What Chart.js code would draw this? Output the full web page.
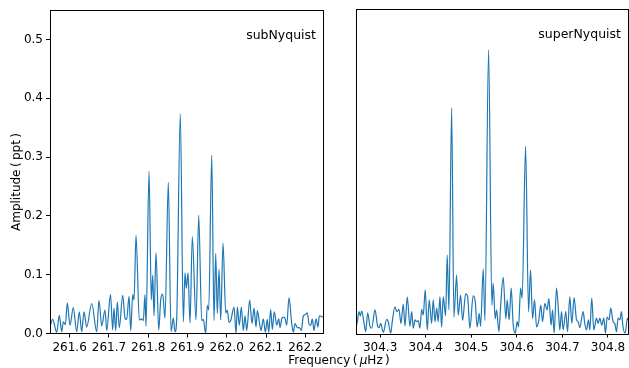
<!DOCTYPE html>
<html>
<head>
<meta charset="utf-8">
<script src="https://cdn.jsdelivr.net/npm/chart.js@4.4.1/dist/chart.umd.min.js"></script>
<style>
  body { margin: 0; background: #fff; }
  #wrap { position: relative; width: 629px; height: 368px; background: #fff; overflow: hidden; }
  canvas { position: absolute; top: 0; }
  #subCanvas { left: 0; }
  #superCanvas { left: 340px; }
  .title { position: absolute; font-family: "DejaVu Sans", sans-serif; font-size: 12px; color: #000; white-space: nowrap; }
  #xTitle { left: 339px; top: 353px; transform: translateX(-50%); }
  #yTitle { left: 16px; top: 182px; transform: translate(-50%, -50%) rotate(-90deg); }
</style>
</head>
<body>
<div id="wrap">
  <canvas id="subCanvas" width="340" height="368"></canvas>
  <canvas id="superCanvas" width="289" height="368"></canvas>
  <div class="title" id="xTitle">Frequency&#8201;(&#8201;<i>&mu;</i>Hz&#8201;)</div>
  <div class="title" id="yTitle">Amplitude&#8201;(&#8201;ppt&#8201;)</div>
</div>
<script>
// sub-Nyquist panel: peaks and troughs
const leftFreq = [
  261.5500, 261.5569, 261.5671, 261.5737, 261.5798, 261.5839, 261.5890, 261.5940, 261.6009, 261.6093,
  261.6180, 261.6246, 261.6307, 261.6366, 261.6434, 261.6562, 261.6689, 261.6748, 261.6816, 261.6900,
  261.6944, 261.7040, 261.7096, 261.7129, 261.7173, 261.7213, 261.7264, 261.7351, 261.7410, 261.7453,
  261.7511, 261.7555, 261.7606, 261.7639, 261.7690, 261.7774, 261.7835, 261.7875, 261.7919, 261.7944,
  261.8021, 261.8079, 261.8115, 261.8148, 261.8199, 261.8268, 261.8318, 261.8369, 261.8428, 261.8512,
  261.8581, 261.8639, 261.8683, 261.8726, 261.8817, 261.8894, 261.8937, 261.8970, 261.9014, 261.9064,
  261.9123, 261.9217, 261.9286, 261.9362, 261.9403, 261.9464, 261.9505, 261.9541, 261.9617, 261.9675,
  261.9719, 261.9759, 261.9803, 261.9846, 261.9905, 261.9973, 262.0014, 262.0057, 262.0101, 262.0185,
  262.0236, 262.0269, 262.0320, 262.0371, 262.0421, 262.0465, 262.0508, 262.0584, 262.0643, 262.0694,
  262.0745, 262.0778, 262.0829, 262.0872, 262.0931, 262.0982, 262.1032, 262.1068, 262.1119, 262.1160,
  262.1211, 262.1272, 262.1323, 262.1356, 262.1399, 262.1440, 262.1483, 262.1526, 262.1585, 262.1654,
  262.1694, 262.1738, 262.1796, 262.1847, 262.1898, 262.1949, 262.1992, 262.2051, 262.2102, 262.2137,
  262.2178, 262.2221, 262.2272, 262.2323, 262.2356, 262.2418, 262.2458
];
const leftAmp = [
  0.012, 0.024, 0.002, 0.031, 0.003, 0.020, 0.015, 0.052, 0.014, 0.044,
  0.003, 0.037, 0.003, 0.037, 0.011, 0.051, 0.003, 0.056, 0.013, 0.040,
  0.005, 0.066, 0.006, 0.043, 0.005, 0.054, 0.010, 0.065, 0.026, 0.024,
  0.063, 0.005, 0.066, 0.057, 0.167, 0.023, 0.025, 0.022, 0.066, 0.012,
  0.276, 0.057, 0.099, 0.030, 0.137, 0.006, 0.057, 0.067, 0.026, 0.257,
  0.003, 0.026, 0.003, 0.026, 0.374, 0.020, 0.103, 0.077, 0.103, 0.018,
  0.165, 0.023, 0.201, 0.022, 0.024, 0.000, 0.048, 0.040, 0.303, 0.022,
  0.136, 0.034, 0.109, 0.023, 0.154, 0.035, 0.040, 0.019, 0.022, 0.045,
  0.000, 0.045, 0.014, 0.045, 0.005, 0.030, 0.005, 0.057, 0.017, 0.043,
  0.011, 0.039, 0.020, 0.005, 0.025, 0.002, 0.024, 0.002, 0.041, 0.007,
  0.037, 0.014, 0.025, 0.010, 0.025, 0.028, 0.026, 0.014, 0.061, 0.017,
  0.002, 0.017, 0.010, 0.010, 0.005, 0.030, 0.032, 0.035, 0.014, 0.014,
  0.025, 0.005, 0.025, 0.011, 0.030, 0.029, 0.028
];

// super-Nyquist panel
const rightFreq = [
  304.2470, 304.2485, 304.2536, 304.2564, 304.2595, 304.2652, 304.2683, 304.2727, 304.2777, 304.2814,
  304.2887, 304.2946, 304.2974, 304.3012, 304.3069, 304.3143, 304.3178, 304.3231, 304.3266, 304.3325,
  304.3369, 304.3413, 304.3457, 304.3507, 304.3545, 304.3595, 304.3654, 304.3692, 304.3727, 304.3764,
  304.3801, 304.3836, 304.3874, 304.3911, 304.3946, 304.3990, 304.4034, 304.4077, 304.4130, 304.4165,
  304.4203, 304.4240, 304.4275, 304.4312, 304.4349, 304.4385, 304.4437, 304.4472, 304.4510, 304.4569,
  304.4619, 304.4678, 304.4713, 304.4766, 304.4810, 304.4876, 304.4920, 304.4970, 304.5042, 304.5086,
  304.5130, 304.5174, 304.5205, 304.5262, 304.5299, 304.5380, 304.5452, 304.5481, 304.5525, 304.5556,
  304.5606, 304.5643, 304.5700, 304.5760, 304.5788, 304.5832, 304.5876, 304.5920, 304.5963, 304.6007,
  304.6038, 304.6082, 304.6117, 304.6192, 304.6257, 304.6301, 304.6345, 304.6389, 304.6433, 304.6477,
  304.6527, 304.6564, 304.6615, 304.6665, 304.6703, 304.6753, 304.6784, 304.6819, 304.6871, 304.6922,
  304.6944, 304.6981, 304.7016, 304.7075, 304.7113, 304.7163, 304.7207, 304.7257, 304.7310, 304.7345,
  304.7382, 304.7455, 304.7492, 304.7529, 304.7573, 304.7602, 304.7645, 304.7689, 304.7749, 304.7784,
  304.7821, 304.7865, 304.7909, 304.7946, 304.7981, 304.8025, 304.8062, 304.8113, 304.8150, 304.8187,
  304.8222, 304.8260, 304.8297, 304.8326, 304.8376, 304.8428, 304.8446
];
const rightAmp = [
  0.017, 0.015, 0.037, 0.030, 0.038, 0.015, 0.003, 0.035, 0.012, 0.009,
  0.040, 0.012, 0.010, 0.017, 0.002, 0.024, 0.020, 0.000, 0.020, 0.045,
  0.037, 0.041, 0.017, 0.050, 0.013, 0.062, 0.012, 0.037, 0.009, 0.023,
  0.020, 0.022, 0.009, 0.041, 0.031, 0.074, 0.006, 0.057, 0.017, 0.057,
  0.020, 0.043, 0.020, 0.062, 0.011, 0.062, 0.030, 0.133, 0.040, 0.382,
  0.028, 0.099, 0.031, 0.065, 0.022, 0.067, 0.062, 0.009, 0.064, 0.055,
  0.011, 0.034, 0.012, 0.109, 0.022, 0.481, 0.048, 0.085, 0.025, 0.040,
  0.003, 0.045, 0.095, 0.025, 0.057, 0.023, 0.077, 0.015, 0.000, 0.020,
  0.011, 0.077, 0.060, 0.317, 0.037, 0.108, 0.025, 0.057, 0.011, 0.020,
  0.048, 0.020, 0.051, 0.040, 0.059, 0.014, 0.040, 0.001, 0.077, 0.028,
  0.006, 0.037, 0.006, 0.037, 0.003, 0.062, 0.017, 0.061, 0.023, 0.020,
  0.010, 0.037, 0.017, 0.006, 0.023, 0.006, 0.060, 0.006, 0.026, 0.017,
  0.026, 0.014, 0.026, 0.000, 0.028, 0.023, 0.043, 0.020, 0.017, 0.003,
  0.026, 0.023, 0.037, 0.014, 0.000, 0.026, 0.022
];

const leftTicks = [261.6, 261.7, 261.8, 261.9, 262.0, 262.1, 262.2];
const rightTicks = [304.3, 304.4, 304.5, 304.6, 304.7, 304.8];
const ampTicks = [0.0, 0.1, 0.2, 0.3, 0.4, 0.5];

Chart.defaults.font.family = "'DejaVu Sans', sans-serif";
Chart.defaults.font.size = 12;
Chart.defaults.color = "#000";

// box round each panel, like the matplotlib spines
const framePlugin = {
  id: "frame",
  afterDraw(chart) {
    const { ctx, chartArea: a } = chart;
    ctx.save();
    ctx.strokeStyle = "#000";
    ctx.lineWidth = 1;
    ctx.strokeRect(Math.floor(a.left) + 0.5, Math.floor(a.top) + 0.5,
      Math.round(a.right - a.left), Math.round(a.bottom - a.top));
    ctx.restore();
  },
};

// panel label in the top right corner
const labelPlugin = {
  id: "panelLabel",
  afterDraw(chart, args, opts) {
    const { ctx, chartArea: a } = chart;
    ctx.save();
    ctx.font = "12.5px 'DejaVu Sans', sans-serif";
    ctx.fillStyle = "#000";
    ctx.textAlign = "right";
    ctx.textBaseline = "alphabetic";
    ctx.fillText(opts.text, a.right - 7, a.top + 29);
    ctx.restore();
  },
};

function xScale(min, max, ticks) {
  return {
    type: "linear",
    min,
    max,
    afterBuildTicks: (s) => { s.ticks = ticks.map((v) => ({ value: v })); },
    afterFit: (s) => { s.height = 34.5; },
    ticks: { callback: (v) => v.toFixed(1), padding: 3, maxRotation: 0, autoSkip: false },
    grid: { drawOnChartArea: false, drawTicks: true, tickLength: 4, tickColor: "#000" },
    border: { display: false },
  };
}

function makeChart(id, freq, amp, xmin, xmax, ticks, label, showY) {
  const points = freq.map((f, i) => ({ x: f, y: amp[i] }));
  return new Chart(document.getElementById(id), {
    type: "line",
    data: {
      datasets: [{
        data: points,
        borderColor: "#1f77b4",
        borderWidth: 1.2,
        pointRadius: 0,
        fill: false,
        cubicInterpolationMode: "monotone",
      }],
    },
    options: {
      responsive: false,
      animation: false,
      devicePixelRatio: 1,
      layout: { padding: showY ? { left: 0, right: 17, top: 9, bottom: 0 } : { left: 16, right: 1, top: 9, bottom: 0 } },
      plugins: { legend: { display: false }, tooltip: { enabled: false }, panelLabel: { text: label } },
      scales: {
        x: xScale(xmin, xmax, ticks),
        y: {
          display: showY,
          min: 0,
          max: 0.55,
          afterBuildTicks: (s) => { s.ticks = ampTicks.map((v) => ({ value: v })); },
          afterFit: (s) => { s.width = showY ? 50 : 0; },
          ticks: { callback: (v) => v.toFixed(1), padding: 3 },
          grid: { drawOnChartArea: false, drawTicks: true, tickLength: 4, tickColor: "#000" },
          border: { display: false },
        },
      },
    },
    plugins: [framePlugin, labelPlugin],
  });
}

makeChart("subCanvas", leftFreq, leftAmp, 261.55, 262.245, leftTicks, "subNyquist", true);
makeChart("superCanvas", rightFreq, rightAmp, 304.247, 304.844, rightTicks, "superNyquist", false);
</script>
</body>
</html>
